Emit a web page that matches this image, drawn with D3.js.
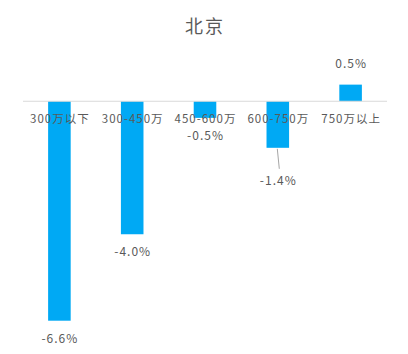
<html>
<head>
<meta charset="utf-8">
<script src="https://cdn.jsdelivr.net/npm/d3@7"></script>
<style>
  body { margin: 0; background: #fff; }
  text { font-family: "Noto Sans CJK SC", "Noto Sans", sans-serif; fill: #595959; }
</style>
</head>
<body>
<svg width="408" height="354"></svg>
<script>
	var title = '北京';
	var categories = ['300万以下', '300-450万', '450-600万', '600-750万', '750万以上'];
	var values = [-6.6, -4.0, -0.5, -1.4, 0.5];
	var valueLabels = ['-6.6%', '-4.0%', '-0.5%', '-1.4%', '0.5%'];

	var svg = d3.select('svg');

	var x = d3.scaleBand()
		.domain(categories)
		.range([23, 387])
		.paddingInner(0.69)
		.paddingOuter(0.345);

	var y = d3.scaleLinear()
		.domain([-7, 1])
		.range([334, 68]);

	svg.append('text')
		.attr('x', 204)
		.attr('dx', 1)
		.attr('y', 33)
		.attr('text-anchor', 'middle')
		.style('font-size', '18px')
		.style('letter-spacing', '2px')
		.text(title);

	// bars
	svg.selectAll('rect.bar').data(values)
		.enter().append('rect')
			.attr('class', 'bar')
			.attr('x', function(d, i) { return x(categories[i]); })
			.attr('y', function(d) { return Math.min(y(d), y(0)); })
			.attr('width', x.bandwidth())
			.attr('height', function(d) { return Math.abs(y(d) - y(0)); })
			.style('fill', '#00a9f4');

	// zero line
	svg.append('line')
		.attr('x1', x.range()[0])
		.attr('x2', x.range()[1])
		.attr('y1', y(0))
		.attr('y2', y(0))
		.style('stroke', '#d9d9d9')
		.style('stroke-width', 1);

	// category labels sit right under the zero line, over the bars
	svg.selectAll('text.cat').data(categories)
		.enter().append('text')
			.attr('class', 'cat')
			.attr('x', function(d) { return x(d) + x.bandwidth() / 2; })
			.attr('dx', 0.5)
			.attr('y', y(0) + 22)
			.attr('text-anchor', 'middle')
			.style('font-size', '11.5px')
			.style('letter-spacing', '1px')
			.text(function(d) { return d; });

	// data labels; the 4th one was dragged down with a leader line
	var shift = [0, 0, 0, 15, 0];
	svg.selectAll('text.val').data(values)
		.enter().append('text')
			.attr('class', 'val')
			.attr('x', function(d, i) { return x(categories[i]) + x.bandwidth() / 2; })
			.attr('dx', 0.5)
			.attr('y', function(d, i) { return d < 0 ? y(d) + 22 + shift[i] : y(d) - 17; })
			.attr('text-anchor', 'middle')
			.style('font-size', '12px')
			.style('letter-spacing', '1px')
			.text(function(d, i) { return valueLabels[i]; });

	svg.append('line')
		.attr('x1', x(categories[3]) + x.bandwidth() / 2 - 0.5)
		.attr('y1', y(values[3]) + 1)
		.attr('x2', x(categories[3]) + x.bandwidth() / 2 + 1.5)
		.attr('y2', y(values[3]) + 21)
		.style('stroke', '#a6a6a6')
		.style('stroke-width', 1);
</script>
</body>
</html>
